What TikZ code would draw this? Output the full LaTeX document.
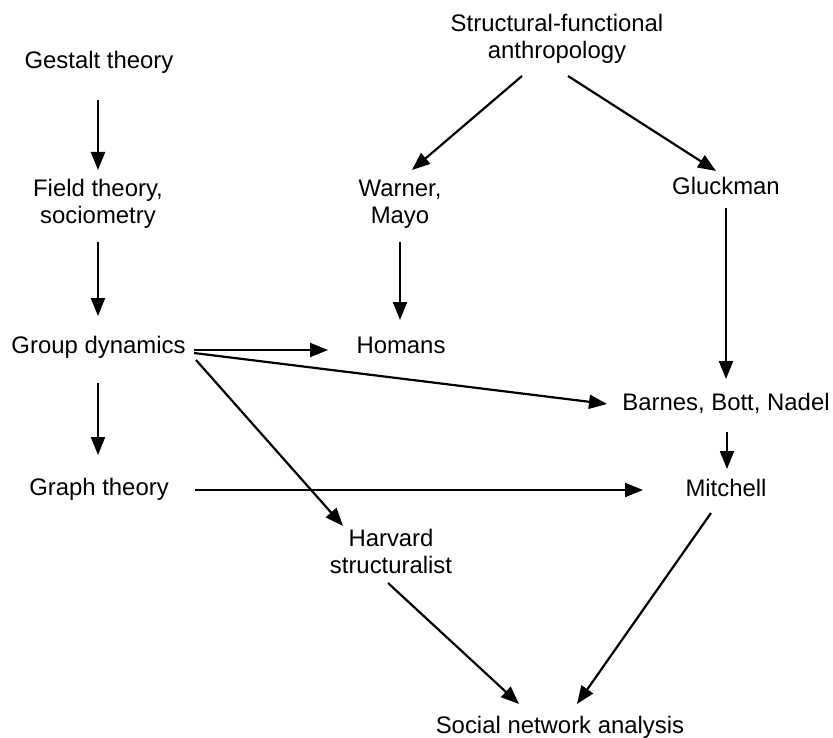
\documentclass[tikz,border=0pt]{standalone}
\usepackage{fontspec}
\setmainfont{Liberation Sans}
\usetikzlibrary{arrows.meta,calc}
% two-line labels: first line carries the baseline
\newcommand{\twolines}[2]{\begin{tabular}[t]{@{}c@{}}#1\\#2\end{tabular}}
\begin{document}
\begin{tikzpicture}[x=1pt,y=-1pt,
  concept/.style={inner sep=0pt, anchor=base, font=\fontsize{23.9pt}{27pt}\selectfont},
  flow/.style={line width=2.2pt, -{Triangle[length=18pt,width=14pt]}}]
\useasboundingbox (0,0) rectangle (833,738);

% left column: psychology lineage
\node[concept] (gestalt) at (99,69)   {Gestalt theory};
\node[concept] (field)   at (98,197)  {\twolines{Field theory,}{sociometry}};
\node[concept] (group)   at (98.5,353){Group dynamics};
\node[concept] (graph)   at (99,495)  {Graph theory};

% right side: anthropology lineage
\node[concept] (sfa)      at (557,32)  {\twolines{Structural-functional}{anthropology}};
\node[concept] (warner)   at (400,197) {\twolines{Warner,}{Mayo}};
\node[concept] (gluckman) at (726,195) {Gluckman};
\node[concept] (homans)   at (401,353) {Homans};
\node[concept] (barnes)   at (726,410) {Barnes, Bott, Nadel};
\node[concept] (mitchell) at (726,496) {Mitchell};
\node[concept] (harvard)  at (391,546) {\twolines{Harvard}{structuralist}};
\node[concept] (sna)      at (560,733) {Social network analysis};

% influences
\draw[flow] ($(gestalt.base)+(-1,31)$)  -- ($(field.base)+(0,-27)$);
\draw[flow] ($(field.base)+(0,45)$)     -- ($(group.base)+(-0.5,-37)$);
\draw[flow] ($(group.base)+(-0.5,30)$)  -- ($(graph.base)+(-1,-40)$);
\draw[flow] ($(group.base)+(95.5,-3)$)  -- ($(homans.base)+(-73,-3)$);
\draw[flow] ($(group.base)+(95.5,0)$)   -- ($(barnes.base)+(-119,-6)$);
\draw[flow] ($(group.base)+(97.5,7)$)   -- ($(harvard.base)+(-48,-20)$);
\draw[flow] ($(graph.base)+(96,-5)$)    -- ($(mitchell.base)+(-83,-6)$);
\draw[flow] ($(sfa.base)+(-35,44)$)     -- ($(warner.base)+(12,-27)$);
\draw[flow] ($(sfa.base)+(11,44)$)      -- ($(gluckman.base)+(-10,-24)$);
\draw[flow] ($(warner.base)+(0,45)$)    -- ($(homans.base)+(-1,-33)$);
\draw[flow] ($(gluckman.base)+(0,13)$)  -- ($(barnes.base)+(0,-31)$);
\draw[flow] ($(barnes.base)+(1,22)$)    -- ($(mitchell.base)+(1,-27)$);
\draw[flow] ($(mitchell.base)+(-15,17)$)-- ($(sna.base)+(17,-29)$);
\draw[flow] ($(harvard.base)+(-3,37)$)  -- ($(sna.base)+(-41,-29)$);
\end{tikzpicture}
\end{document}
